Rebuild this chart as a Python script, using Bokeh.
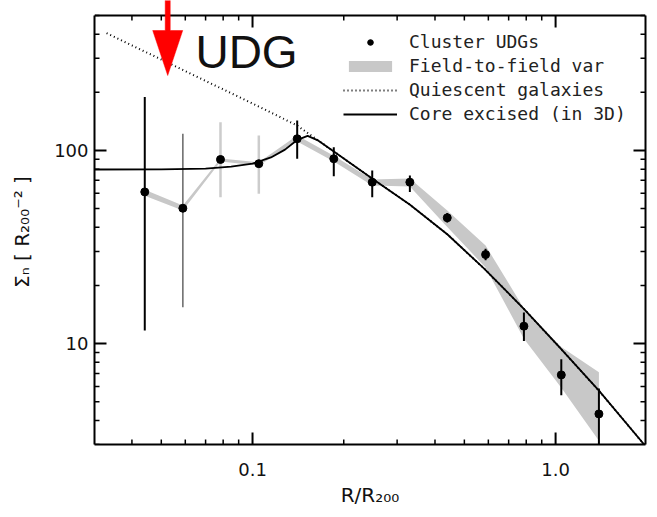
import math
from bokeh.plotting import figure
from bokeh.models import (ColumnDataSource, LogAxis, FixedTicker, PrintfTickFormatter,
                          CustomJSTickFormatter, Legend, LegendItem, Label, PolyAnnotation, Range1d)
from bokeh.embed import file_html
from bokeh.resources import INLINE

# ---------------- data ----------------
R_UDG = [0.0441, 0.0589, 0.0784, 0.1049, 0.1404, 0.1854, 0.2483, 0.3305, 0.4391, 0.5875, 0.7861, 1.0443, 1.3898]
SIGMA_UDG = [61.0, 50.2, 89.8, 85.4, 115.0, 90.6, 68.5, 68.5, 44.8, 28.9, 12.3, 6.88, 4.32]
SIGMA_ERR_HI = [189.0, 122.0, 140.0, 119.6, 143.0, 104.0, 78.8, 74.2, 47.5, 31.0, 14.5, 8.3, 5.85]
SIGMA_ERR_LO = [11.7, 15.4, 57.3, 59.6, 90.6, 73.5, 57.3, 60.9, 42.3, 27.0, 10.3, 5.4, 2.0]

BAND_LO = [58.3, 48.9, 87.7, 83.5, 111.3, 87.7, 65.9, 65.1, 40.1, 24.8, 10.6, 5.9, 3.14]
BAND_HI = [62.5, 51.9, 90.9, 86.8, 119.6, 94.0, 70.8, 71.6, 48.9, 32.2, 15.2, 9.6, 7.1]

R_QUIESCENT = [0.033, 0.10, 0.14, 0.185, 0.25, 0.33, 0.44, 0.58, 0.79, 1.04, 1.39, 1.96]
SIGMA_QUIESCENT = [405.0, 175.0, 135.0, 99.0, 71.0, 52.5, 36.7, 24.5, 15.0, 9.4, 5.7, 3.0]

R_CORE = [0.030, 0.05, 0.07, 0.085, 0.10, 0.115, 0.128, 0.14, 0.152, 0.165, 0.185, 0.25, 0.33, 0.44, 0.58, 0.79, 1.04, 1.39, 1.96]
SIGMA_CORE = [79.7, 79.8, 80.5, 82.5, 85.5, 92.0, 101.0, 113.0, 119.0, 112.4, 99.0, 71.0, 52.5, 36.7, 24.5, 15.0, 9.4, 5.7, 3.0]

X_TICKS = [0.1, 1.0]
X_TICK_LABELS = ["0.1", "1.0"]
Y_TICKS = [10, 100]
Y_TICK_LABELS = ["10", "100"]

UDG_ARROW_R = 0.0525
UDG_LABEL_R, UDG_LABEL_SIGMA = 0.0648, 322.0

X_RANGE = (0.0301, 1.98)
Y_RANGE = (3.0, 500.0)

# ---------------- styles ----------------
ERR_COLORS = ["black", "#666666", "#cccccc", "#cccccc", "black", "black", "black",
              "black", "black", "black", "black", "black", "black"]
ERR_WIDTHS = [2, 1.5, 2.5, 2.5, 2, 2, 2, 2, 2, 2, 2, 2, 2]
TICK_FONT = "DejaVu Sans"

W, H = 657, 517
ML, MR, MB = 94, 12, 73
AXIS_TOP_PX = 15          # drawn top border sits 15 px below the canvas top
MAJ_LEN, MIN_LEN = 12, 5

fw = W - ML - MR
fh_axes = H - AXIS_TOP_PX - MB
dpx = math.log10(X_RANGE[1] / X_RANGE[0]) / fw
dpy = math.log10(Y_RANGE[1] / Y_RANGE[0]) / fh_axes
y_frame_top = Y_RANGE[1] * 10 ** (AXIS_TOP_PX * dpy)

p = figure(width=W, height=H, x_axis_type="log", y_axis_type="log",
           x_range=Range1d(*X_RANGE), y_range=Range1d(Y_RANGE[0], y_frame_top),
           output_backend="svg", toolbar_location=None,
           min_border_left=ML, min_border_right=MR, min_border_top=0, min_border_bottom=MB)
p.grid.visible = False
p.background_fill_color = "white"
p.border_fill_color = "white"
p.outline_line_color = None

band_src = ColumnDataSource(dict(x=R_UDG, lo=BAND_LO, hi=BAND_HI))
band = p.varea(x="x", y1="lo", y2="hi", source=band_src, fill_color="#c8c8c8")

err_src = ColumnDataSource(dict(x=R_UDG, lo=SIGMA_ERR_LO, hi=SIGMA_ERR_HI,
                                c=ERR_COLORS, w=ERR_WIDTHS))
p.segment(x0="x", y0="lo", x1="x", y1="hi", source=err_src, line_color="c", line_width="w")

core = p.line(R_CORE, SIGMA_CORE, line_color="black", line_width=1.8)
quies = p.line(R_QUIESCENT, SIGMA_QUIESCENT, line_color="black", line_width=2,
               line_dash="1 3")
pts = p.scatter(R_UDG, SIGMA_UDG, marker="circle", size=8, fill_color="black", line_color="black")

# ---------------- axes ----------------
def minor_list(lo, hi):
    out = []
    for e in range(-3, 4):
        for m in range(2, 10):
            v = m * 10.0 ** e
            if lo * 0.999 <= v <= hi * 1.001:
                out.append(v)
    return out

X_MINOR = minor_list(*X_RANGE)
Y_MINOR = minor_list(*Y_RANGE)
x_ticker = FixedTicker(ticks=X_TICKS, minor_ticks=X_MINOR)
y_ticker = FixedTicker(ticks=Y_TICKS, minor_ticks=Y_MINOR)

def style_axis(ax):
    ax.axis_line_width = 2
    ax.axis_line_color = "black"
    ax.major_tick_line_color = None
    ax.minor_tick_line_color = None
    ax.major_tick_in = 0
    ax.major_tick_out = 0
    ax.minor_tick_in = 0
    ax.minor_tick_out = 0
    ax.major_label_text_font = TICK_FONT
    ax.major_label_text_font_size = "18px"
    ax.major_label_text_color = "#111111"
    ax.axis_label_text_font = TICK_FONT
    ax.axis_label_text_font_size = "20px"
    ax.axis_label_text_font_style = "normal"
    ax.axis_label_text_color = "#111111"

xa = p.xaxis[0]
xa.ticker = x_ticker
xa.formatter = PrintfTickFormatter(format="%.1f")
xa.major_label_overrides = dict(zip(X_TICKS, X_TICK_LABELS))
style_axis(xa)
xa.major_label_standoff = 18
xa.axis_label = "R/R₂₀₀"
xa.axis_label_standoff = 4

ya = p.yaxis[0]
ya.ticker = y_ticker
ya.formatter = PrintfTickFormatter(format="%d")
ya.major_label_overrides = dict(zip(Y_TICKS, Y_TICK_LABELS))
style_axis(ya)
ya.bounds = Y_RANGE
ya.major_label_standoff = 6
ya.axis_label = "Σₙ  [  R₂₀₀⁻²  ]"
ya.axis_label_standoff = 17

blank = CustomJSTickFormatter(code="return ''")
right = LogAxis(ticker=y_ticker, formatter=blank, bounds=Y_RANGE)
style_axis(right)
right.major_label_standoff = 0
p.add_layout(right, "right")

# top border line of the box
p.line([X_RANGE[0], X_RANGE[1]], [Y_RANGE[1], Y_RANGE[1]], line_color="black", line_width=2)

# inward ticks on all four sides
def xs_(v, px):
    return v * 10 ** (px * dpx)

def ys_(v, px):
    return v * 10 ** (px * dpy)

def add_ticks(xt, yt, length, width):
    x0, y0, x1, y1 = [], [], [], []
    for t in xt:
        x0 += [t, t]; x1 += [t, t]
        y0 += [Y_RANGE[0], Y_RANGE[1]]
        y1 += [ys_(Y_RANGE[0], length), ys_(Y_RANGE[1], -length)]
    for t in yt:
        y0 += [t, t]; y1 += [t, t]
        x0 += [X_RANGE[0], X_RANGE[1]]
        x1 += [xs_(X_RANGE[0], length), xs_(X_RANGE[1], -length)]
    p.segment(x0=x0, y0=y0, x1=x1, y1=y1, line_color="black", line_width=width)

add_ticks(X_TICKS, Y_TICKS, MAJ_LEN, 2)
add_ticks(X_MINOR, Y_MINOR, MIN_LEN, 1.5)

# ---------------- legend ----------------
legend = Legend(items=[
    LegendItem(label="Cluster UDGs", renderers=[pts]),
    LegendItem(label="Field-to-field var", renderers=[band]),
    LegendItem(label="Quiescent galaxies", renderers=[quies]),
    LegendItem(label="Core excised (in 3D)", renderers=[core]),
], location=(249, 320))
legend.label_text_font = "DejaVu Sans Mono"
legend.label_text_font_size = "18px"
legend.label_text_color = "#222222"
legend.glyph_width = 54
legend.glyph_height = 14
legend.label_height = 20
legend.label_standoff = 12
legend.spacing = 3
legend.padding = 0
legend.margin = 0
legend.border_line_color = None
legend.background_fill_alpha = 0
p.add_layout(legend)

# ---------------- UDG annotation ----------------
def xoff(px):
    return UDG_ARROW_R * 10 ** (px * dpx)

def ytop(px_below_top):
    return Y_RANGE[1] * 10 ** (-px_below_top * dpy)

y_shaft_top = ytop(-25)
y_base = ytop(15)
y_tip = ytop(60)
arrow = PolyAnnotation(
    xs=[xoff(-2.5), xoff(2.5), xoff(2.5), xoff(15), UDG_ARROW_R, xoff(-15), xoff(-2.5)],
    ys=[y_shaft_top, y_shaft_top, y_base, y_base, y_tip, y_base, y_base],
    xs_units="data", ys_units="data",
    fill_color="#ff0000", fill_alpha=1.0, line_color="#ff0000", line_alpha=1.0, line_width=0.5)
p.add_layout(arrow)

p.add_layout(Label(x=UDG_LABEL_R, y=UDG_LABEL_SIGMA, text="UDG", text_font="Liberation Sans",
                   text_font_size="46px", text_color="#111111", text_baseline="alphabetic"))

open("out.html", "w").write(file_html(p, INLINE))
